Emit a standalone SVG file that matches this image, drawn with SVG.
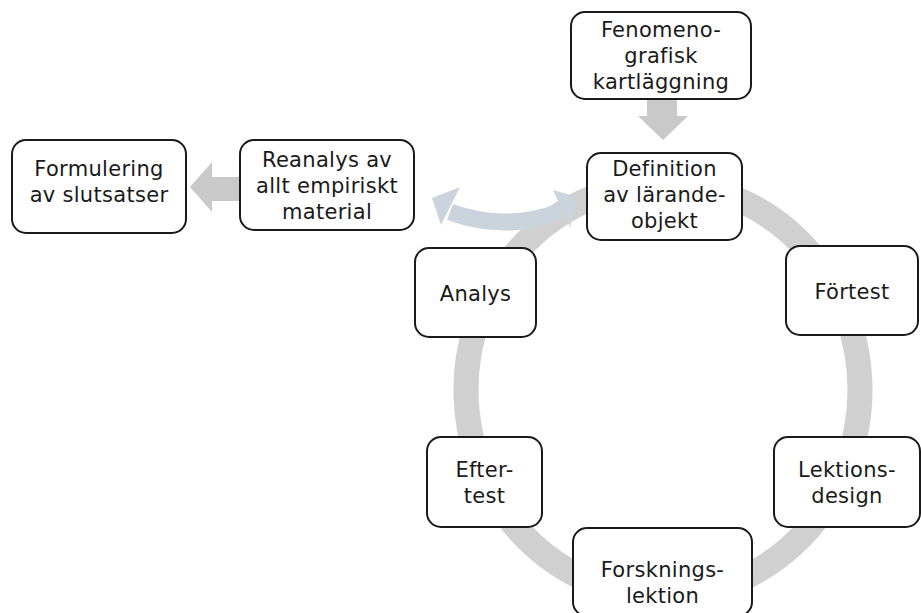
<svg xmlns="http://www.w3.org/2000/svg" width="921" height="613" viewBox="0 0 921 613">
<style>
.box{fill:#ffffff;stroke:#1a1a1a;stroke-width:2}
.t{font-family:"DejaVu Sans","Open Sans",sans-serif;font-size:21px;letter-spacing:0.3px;fill:#1a1a1a;text-anchor:middle}
.gray{fill:#c9c9c9}
</style>
<rect width="921" height="613" fill="#ffffff"/>
<g id="connectors">
  <ellipse cx="663" cy="390" rx="197" ry="206" fill="none" stroke="#d0d0d0" stroke-width="25"/>
  <path class="gray" d="M647,100 L677,100 L677,116 L688,116 L663,140 L638,116 L647,116 Z"/>
  <path class="gray" d="M240,177 L212,177 L212,162 L190,187 L212,212 L212,201 L240,201 Z"/>
  <path d="M450,212 Q505,232 560,212" fill="none" stroke="#cbd3dc" stroke-width="17"/>
  <path d="M460,187 L432,198 L441,225 Z" fill="#cbd3dc"/>
  <path d="M553,190 L578,197 L570,227 Z" fill="#cbd3dc"/>
</g>
<g id="fenomenografisk">
  <rect class="box" x="571" y="12" width="180" height="87" rx="14"/>
  <text class="t" x="661" y="37">Fenomeno-</text>
  <text class="t" x="661" y="63">grafisk</text>
  <text class="t" x="661" y="89">kartläggning</text>
</g>
<g id="definition">
  <rect class="box" x="587" y="153" width="155" height="87" rx="14"/>
  <text class="t" x="664.5" y="176">Definition</text>
  <text class="t" x="664.5" y="202">av lärande-</text>
  <text class="t" x="664.5" y="228">objekt</text>
</g>
<g id="formulering">
  <rect class="box" x="12" y="140" width="174" height="93" rx="14"/>
  <text class="t" x="99" y="176">Formulering</text>
  <text class="t" x="99" y="202">av slutsatser</text>
</g>
<g id="reanalys">
  <rect class="box" x="240" y="140" width="174" height="90" rx="14"/>
  <text class="t" x="327" y="167">Reanalys av</text>
  <text class="t" x="327" y="193">allt empiriskt</text>
  <text class="t" x="327" y="219">material</text>
</g>
<g id="analys">
  <rect class="box" x="415" y="248" width="121" height="89" rx="14"/>
  <text class="t" x="475.5" y="301">Analys</text>
</g>
<g id="fortest">
  <rect class="box" x="786" y="246" width="132" height="89" rx="14"/>
  <text class="t" x="852" y="299">Förtest</text>
</g>
<g id="eftertest">
  <rect class="box" x="427" y="437" width="115" height="90" rx="14"/>
  <text class="t" x="484.5" y="477">Efter-</text>
  <text class="t" x="484.5" y="503">test</text>
</g>
<g id="lektionsdesign">
  <rect class="box" x="774" y="437" width="146" height="90" rx="14"/>
  <text class="t" x="847" y="477">Lektions-</text>
  <text class="t" x="847" y="503">design</text>
</g>
<g id="forskningslektion">
  <rect class="box" x="573" y="528" width="179" height="88" rx="14"/>
  <text class="t" x="662.5" y="577">Forsknings-</text>
  <text class="t" x="662.5" y="603">lektion</text>
</g>
</svg>
